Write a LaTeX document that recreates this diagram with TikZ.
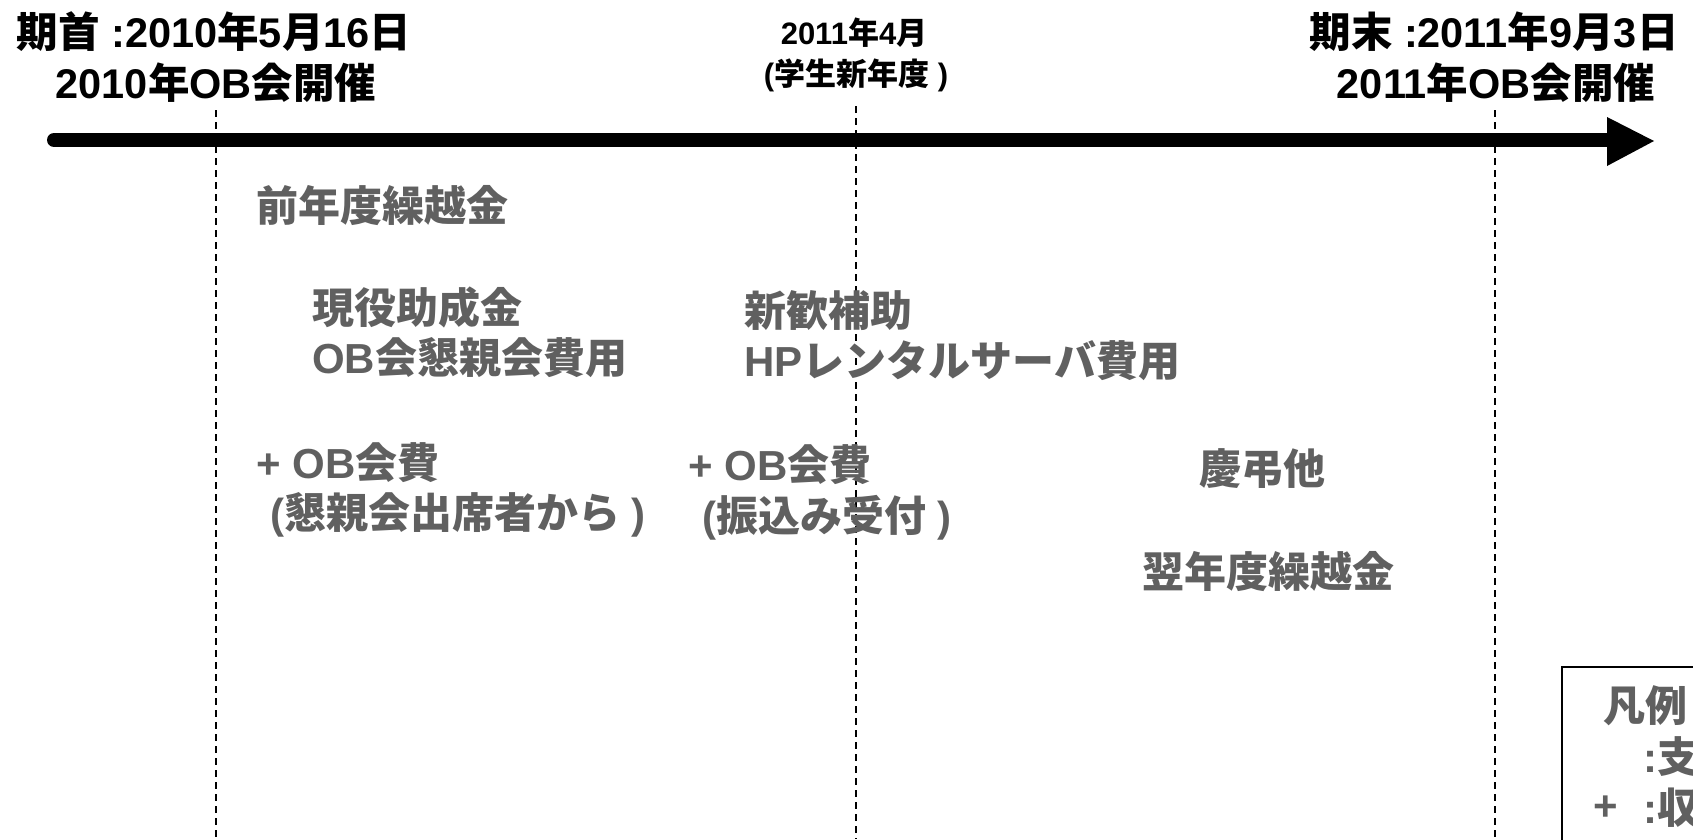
\documentclass[tikz,border=0pt]{standalone}
\usepackage{fontspec}
\setmainfont{Noto Sans CJK JP}
\newfontfamily\lt{Liberation Sans}
\definecolor{txtgray}{RGB}{96,96,96}
\begin{document}
\begin{tikzpicture}[x=1pt,y=-1pt,
  gtext/.style={anchor=west,inner sep=0pt,text=txtgray,font=\fontsize{42}{50}\selectfont\bfseries},
  ttext/.style={inner sep=0pt,font=\fontsize{41.5}{50}\selectfont\bfseries},
  mtext/.style={inner sep=0pt,font=\fontsize{31}{37}\selectfont\bfseries},
  vline/.style={dash pattern=on 7pt off 5pt, line width=1.3pt},
  axis/.style={line width=14pt, line cap=round}]
\useasboundingbox (0,0) rectangle (1693,839);
% timeline arrow
\coordinate (as) at (54,140);
\coordinate (ae) at (1612,140);
\coordinate (tip) at (1654,141);
\draw[axis] (as) -- (ae);
\fill (1607,117) -- (tip) -- (1607,166) -- cycle;
% dashed lines
\coordinate (d1t) at (216,110); \coordinate (d1b) at (216,839);
\coordinate (d2t) at (856,106); \coordinate (d2b) at (856,839);
\coordinate (d3t) at (1495,110); \coordinate (d3b) at (1495,839);
\draw[vline] (d1t) -- (d1b);
\draw[vline] (d2t) -- (d2b);
\draw[vline] (d3t) -- (d3b);
% titles
\node[ttext] (t1a) at (214,32) {期首{\lt\ :2010}年{\lt 5}月{\lt 16}日};
\node[ttext] (t1b) at (216,83) {{\lt 2010}年{\lt OB}会開催};
\node[mtext] (t2a) at (854,33) {{\lt 2011}年{\lt 4}月};
\node[mtext] (t2b) at (856,75) {{\lt (}学生新年度{\lt\ )}};
\node[ttext] (t3a) at (1494,32) {期末{\lt\ :2011}年{\lt 9}月{\lt 3}日};
\node[ttext] (t3b) at (1496,83) {{\lt 2011}年{\lt OB}会開催};
% gray items
\node[gtext] (g1) at (256,206) {前年度繰越金};
\node[gtext] (g2) at (312,307) {現役助成金};
\node[gtext] (g3) at (312,358) {{\lt OB}会懇親会費用};
\node[gtext] (g4) at (744,311) {新歓補助};
\node[gtext] (g5) at (744,361) {{\lt HP}レンタルサーバ費用};
\node[gtext] (g6) at (256,463) {{\lt + OB}会費};
\node[gtext] (g7) at (270,515) {{\lt (}懇親会出席者から{\lt\ )}};
\node[gtext] (g8) at (688,465) {{\lt + OB}会費};
\node[gtext] (g9) at (702,518) {{\lt (}振込み受付{\lt\ )}};
\node[gtext] (g10) at (1199,469) {慶弔他};
\node[gtext] (g11) at (1142,572) {翌年度繰越金};
% legend
\draw[line width=2pt] (1562,667) rectangle (1760,900);
\node[gtext] (l1) at (1603,706) {凡例};
\node[gtext] (l2) at (1643,757) {{\lt :}支};
\node[gtext] (l3p) at (1593,808) {{\lt +}};
\node[gtext] (l3) at (1643,808) {{\lt :}収};
\end{tikzpicture}
\end{document}
